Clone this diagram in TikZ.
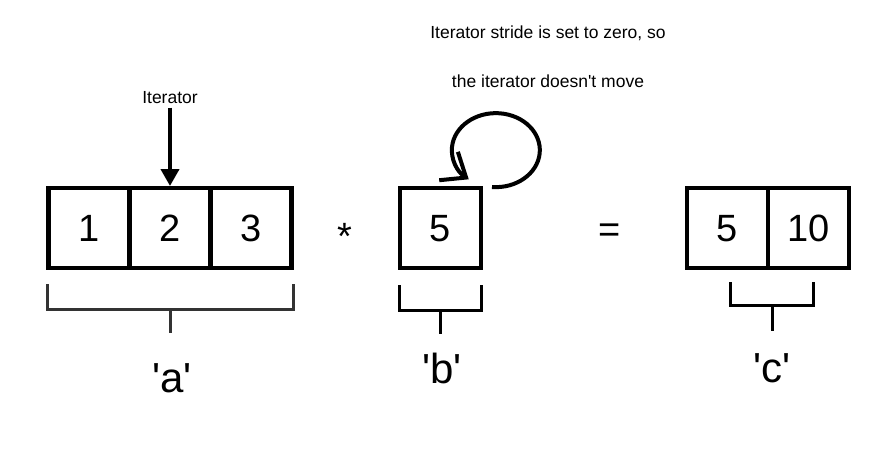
\documentclass[tikz,border=0pt]{standalone}
\usepackage{fontspec}
\setmainfont{Liberation Sans}
\usetikzlibrary{arrows.meta, positioning}

\tikzset{
  cell/.style={draw, line width=4.5pt, minimum width=81pt, minimum height=80pt,
    inner sep=0pt, outer sep=0pt, text height=27pt, text depth=0pt,
    font=\fontsize{38}{40}\selectfont},
  oper/.style={anchor=base, font=\fontsize{38}{40}\selectfont},
  varlabel/.style={font=\fontsize{42}{46}\selectfont},
  note/.style={font=\fontsize{17.5}{20}\selectfont},
  bracketline/.style={line width=3pt},
}

\begin{document}
\begin{tikzpicture}[x=1pt, y=-1pt]
    \path[use as bounding box, fill=white] (0,0) rectangle (889,455);

    % Array a
    \node[cell] (a1) at (89,228) {1};
    \node[cell, right=0pt of a1] (a2) {2};
    \node[cell, right=0pt of a2] (a3) {3};

    % Scalar b
    \node[cell] (b) at (440.5,228) {5};

    % Result c
    \node[cell] (c1) at (727.5,228) {5};
    \node[cell, right=0pt of c1] (c2) {10};

    % Operators
    \node[oper] (times) at (345,249) {*};
    \node[oper] (equals) at (610,242) {=};

    % Iterator on a
    \node[note] (iter) at (170,98) {Iterator};
    \draw[line width=4pt, -{Triangle[length=17pt, width=18pt]}] (iter.south) -- ([yshift=2pt]a2.north);

    % Iterator on b stays put
    \node[note] (stride1) at (548,33) {Iterator stride is set to zero, so};
    \node[note] (stride2) at (548,81) {the iterator doesn\textquotesingle t move};
    \coordinate (loopstart) at (492,187);
    \draw[line width=4pt, -{Straight Barb[length=21pt, width=34pt]}] (loopstart)
        arc[start angle=265, end angle=592, x radius=44pt, y radius=37pt];

    % Brackets
    \draw[bracketline, black!80] (47,284) -- (47,309) -- (293,309) -- (293,284);
    \draw[bracketline, black!80] (170,309) -- (170,333);
    \draw[bracketline] (399,285) -- (399,310) -- (481,310) -- (481,285);
    \draw[bracketline] (440,310) -- (440,334);
    \draw[bracketline] (730,282) -- (730,305) -- (813,305) -- (813,282);
    \draw[bracketline] (772,305) -- (772,331);

    % Names
    \node[varlabel] (namea) at (172,378) {\textquotesingle a\textquotesingle};
    \node[varlabel] (nameb) at (442,368) {\textquotesingle b\textquotesingle};
    \node[varlabel] (namec) at (772,368) {\textquotesingle c\textquotesingle};
\end{tikzpicture}
\end{document}
